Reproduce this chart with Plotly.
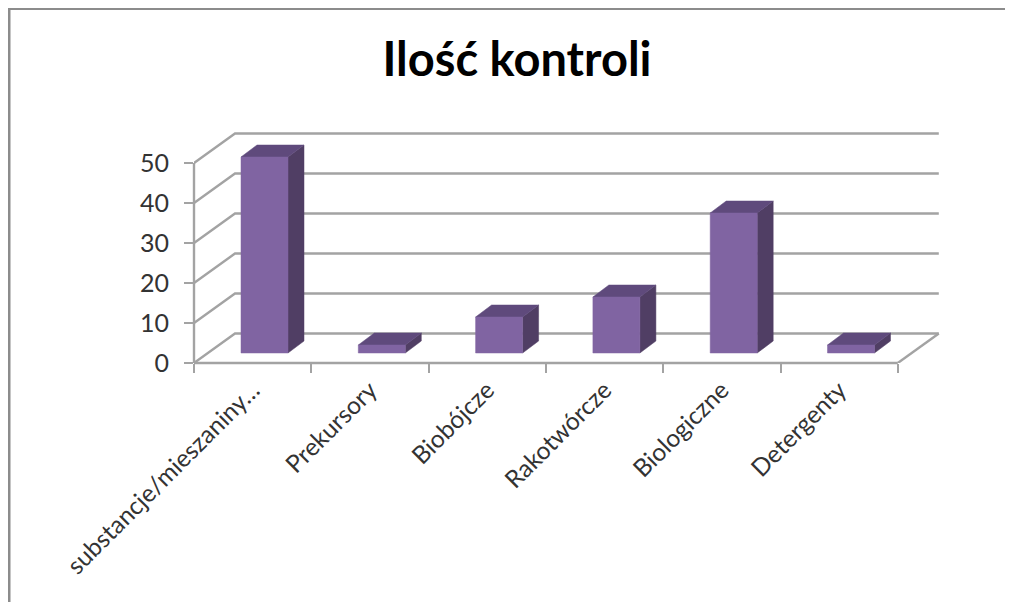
import plotly.graph_objects as go

categories = ["substancje/mieszaniny…", "Prekursory", "Biobójcze", "Rakotwórcze", "Biologiczne", "Detergenty"]
values = [49, 2, 9, 14, 35, 2]
y_ticks = [0, 10, 20, 30, 40, 50]
title_text = "Ilość kontroli"

# geometry (pixels, in figure coordinates; the page body adds 8 px)
OFF = 8
W, H = 1013 - OFF, 602 - OFF
L, R, T, B = 194 - OFF, 946 - OFF, 126 - OFF, 363 - OFF
CAT_W, PX_PER_UNIT = 117.3, 4.0
GRID = "#A3A3A3"
FRONT, SIDE, TOP = "#8064A2", "#503E64", "#5F4A7C"
TEXT = "#333333"

ux = lambda px: px / CAT_W
uy = lambda px: px / PX_PER_UNIT
wall_dx, wall_dy = ux(41), uy(29.5)
bar_x0, bar_w = ux(47), ux(47)
bar_base = uy(10)
bar_dx, bar_dy = ux(16), uy(12)
n = len(categories)

fig = go.Figure()


def line(xs, ys):
    fig.add_trace(go.Scatter(x=xs, y=ys, mode="lines", hoverinfo="skip", showlegend=False, cliponaxis=False,
                             line=dict(color=GRID, width=2.4)))


def poly(xs, ys, color):
    fig.add_trace(go.Scatter(x=xs + xs[:1], y=ys + ys[:1], mode="lines", fill="toself", fillcolor=color,
                             hoverinfo="skip", showlegend=False, line=dict(color=color, width=0.5)))


for v in y_ticks:
    line([0, wall_dx, n + wall_dx], [v, v + wall_dy, v + wall_dy])
line([n, n + wall_dx], [0, wall_dy])

for i, v in enumerate(values):
    x0 = i + bar_x0
    x1 = x0 + bar_w
    y0 = bar_base
    y1 = bar_base + v
    poly([x1, x1 + bar_dx, x1 + bar_dx, x1], [y0, y0 + bar_dy, y1 + bar_dy, y1], SIDE)
    poly([x0, x0 + bar_dx, x1 + bar_dx, x1], [y1, y1 + bar_dy, y1 + bar_dy, y1], TOP)
    poly([x0, x1, x1, x0], [y0, y0, y1, y1], FRONT)

span_x, span_y = R - L, B - T
fig.update_layout(
    width=W, height=H,
    margin=dict(l=L, r=W - R, t=T, b=H - B, pad=0),
    paper_bgcolor="white", plot_bgcolor="rgba(0,0,0,0)",
    showlegend=False,
    font=dict(family="Lato, Carlito, sans-serif", color=TEXT),
    title=dict(text=title_text, x=(517 - OFF) / W, xanchor="center", y=1 - (60 - OFF) / H, yanchor="middle",
               font=dict(size=47, family="Lato, sans-serif", weight="bold", color="#000000")),
    xaxis=dict(range=[0, span_x / CAT_W], showgrid=False, zeroline=False, showline=False,
               tickmode="array", tickvals=[i + 0.5 for i in range(n)], ticktext=categories, ticks="",
               tickangle=-45, tickfont=dict(size=24.5), ticklabelstandoff=7,
               minor=dict(tickmode="array", tickvals=list(range(n + 1)), ticks="outside",
                          ticklen=9, tickwidth=2.4, tickcolor=GRID, showgrid=False)),
    yaxis=dict(range=[0, span_y / PX_PER_UNIT], showgrid=False, zeroline=False, showline=False,
               tickmode="array", tickvals=y_ticks, ticktext=[str(t) for t in y_ticks],
               ticks="outside", ticklen=9, tickwidth=2.4, tickcolor=GRID,
               tickfont=dict(size=25), ticklabelstandoff=10),
    shapes=[
        dict(type="line", xref="paper", yref="paper", x0=-L / span_x, x1=(W - L) / span_x,
             y0=(B - 0.5) / span_y, y1=(B - 0.5) / span_y, line=dict(color="#8C8C8C", width=3)),
        dict(type="line", xref="paper", yref="paper", x0=(1 - L) / span_x, x1=(1 - L) / span_x,
             y0=(B - H) / span_y, y1=B / span_y, line=dict(color="#8C8C8C", width=3)),
        # category axis and value axis lines, kept out of the plot-area clip
        dict(type="line", xref="x", yref="paper", x0=0, x1=n, y0=0, y1=0,
             line=dict(color=GRID, width=2.4), layer="below"),
        dict(type="line", xref="paper", yref="paper", x0=0, x1=0, y0=0, y1=y_ticks[-1] * PX_PER_UNIT / span_y,
             line=dict(color=GRID, width=2.4), layer="below"),
    ],
)

fig.write_html("out.html")
